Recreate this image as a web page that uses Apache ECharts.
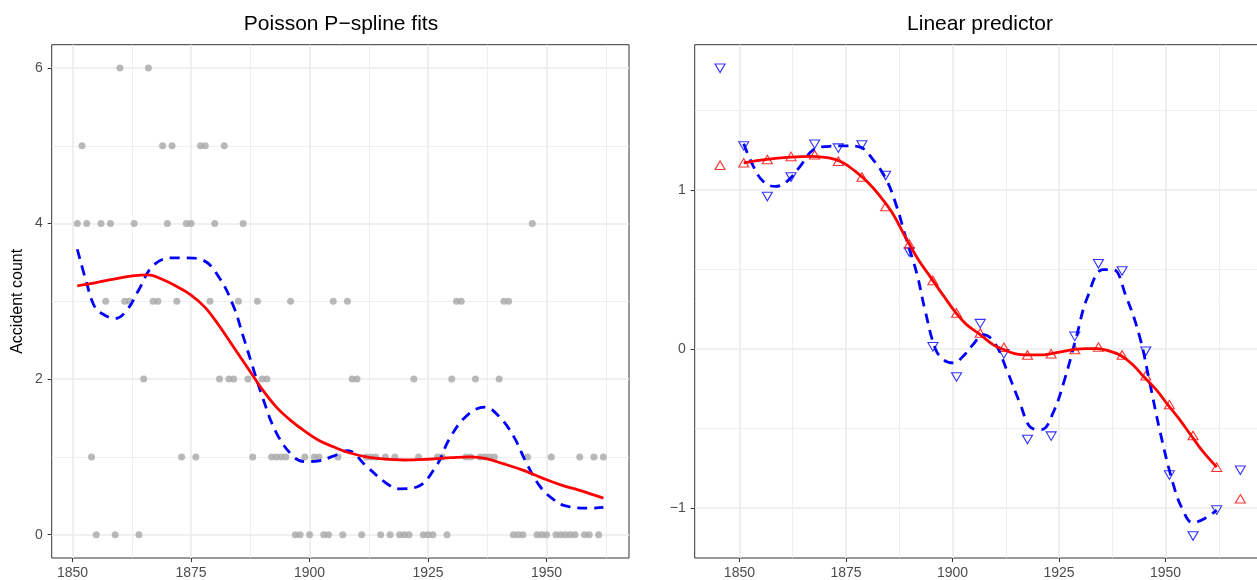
<!DOCTYPE html>
<html>
<head>
<meta charset="utf-8">
<script src="https://cdn.jsdelivr.net/npm/echarts@6/dist/echarts.min.js"></script>
<style>
  html, body { margin: 0; padding: 0; background: #fff; overflow: hidden; width: 1257px; height: 580px; }
  #chart { width: 1280px; height: 580px; }
</style>
</head>
<body>
<div id="chart"></div>
<script>
// yearly accident counts
const years = [
  1851, 1852, 1853, 1854, 1855, 1856, 1857, 1858, 1859, 1860,
  1861, 1862, 1863, 1864, 1865, 1866, 1867, 1868, 1869, 1870,
  1871, 1872, 1873, 1874, 1875, 1876, 1877, 1878, 1879, 1880,
  1881, 1882, 1883, 1884, 1885, 1886, 1887, 1888, 1889, 1890,
  1891, 1892, 1893, 1894, 1895, 1896, 1897, 1898, 1899, 1900,
  1901, 1902, 1903, 1904, 1905, 1906, 1907, 1908, 1909, 1910,
  1911, 1912, 1913, 1914, 1915, 1916, 1917, 1918, 1919, 1920,
  1921, 1922, 1923, 1924, 1925, 1926, 1927, 1928, 1929, 1930,
  1931, 1932, 1933, 1934, 1935, 1936, 1937, 1938, 1939, 1940,
  1941, 1942, 1943, 1944, 1945, 1946, 1947, 1948, 1949, 1950,
  1951, 1952, 1953, 1954, 1955, 1956, 1957, 1958, 1959, 1960,
  1961, 1962
]
const counts = [
  4, 5, 4, 1, 0, 4, 3, 4, 0, 6,
  3, 3, 4, 0, 2, 6, 3, 3, 5, 4,
  5, 3, 1, 4, 4, 1, 5, 5, 3, 4,
  2, 5, 2, 2, 3, 4, 2, 1, 3, 2,
  2, 1, 1, 1, 1, 3, 0, 0, 1, 0,
  1, 1, 0, 0, 3, 1, 0, 3, 2, 2,
  0, 1, 1, 1, 0, 1, 0, 1, 0, 0,
  0, 2, 1, 0, 0, 0, 1, 1, 0, 2,
  3, 3, 1, 1, 2, 1, 1, 1, 1, 2,
  3, 3, 0, 0, 0, 1, 4, 0, 0, 0,
  1, 0, 0, 0, 0, 0, 1, 0, 0, 1,
  0, 1
]

// fitted means (left panel)
const smoothMuYears = [1851, 1855, 1859, 1863, 1866, 1869, 1872, 1875, 1878, 1881, 1884, 1887, 1890, 1893, 1896, 1899, 1902, 1905, 1908, 1912, 1916, 1920, 1925, 1930, 1934, 1937, 1941, 1945, 1949, 1953, 1957, 1962]
const smoothMu = [3.20, 3.24, 3.29, 3.33, 3.34, 3.28, 3.19, 3.08, 2.92, 2.68, 2.41, 2.14, 1.87, 1.64, 1.47, 1.33, 1.21, 1.13, 1.06, 1.00, 0.97, 0.96, 0.97, 0.99, 1.00, 0.98, 0.91, 0.83, 0.73, 0.64, 0.57, 0.47]
const roughMuYears = [1851, 1853, 1854.5, 1856, 1859, 1861.5, 1864, 1867, 1871, 1874, 1877.5, 1881, 1884, 1886, 1888, 1890, 1893, 1896.5, 1899, 1902, 1905, 1908, 1912, 1916, 1919, 1922.5, 1926.7, 1929.5, 1933, 1937, 1940, 1943, 1945.7, 1948.5, 1951.3, 1954, 1959, 1962]
const roughMu = [3.67, 3.23, 2.95, 2.85, 2.78, 2.89, 3.15, 3.46, 3.56, 3.56, 3.53, 3.30, 2.93, 2.55, 2.16, 1.78, 1.31, 1.01, 0.94, 0.95, 1.01, 1.08, 0.88, 0.67, 0.59, 0.61, 0.88, 1.23, 1.52, 1.64, 1.52, 1.27, 0.93, 0.63, 0.46, 0.37, 0.34, 0.35]

// linear predictor (right panel)
const smoothEtaYears = [1851, 1856, 1862, 1867, 1871, 1874, 1877, 1880, 1883, 1886, 1889, 1892, 1895, 1898, 1901, 1903.3, 1906.2, 1909.5, 1912, 1914.6, 1917.3, 1920.4, 1923, 1926, 1928.4, 1931.4, 1934, 1937, 1939.4, 1942.3, 1944.8, 1947.8, 1950.5, 1953.3, 1956, 1958.7, 1962]
const smoothEta = [1.17, 1.19, 1.205, 1.21, 1.20, 1.175, 1.12, 1.05, 0.96, 0.85, 0.70, 0.56, 0.445, 0.33, 0.22, 0.153, 0.096, 0.027, -0.004, -0.03, -0.038, -0.038, -0.031, -0.015, -0.004, 0.002, 0.002, -0.015, -0.04, -0.099, -0.172, -0.256, -0.35, -0.444, -0.544, -0.643, -0.743]
const roughEtaYears = [1851, 1853.3, 1855.6, 1858.4, 1861.1, 1864.2, 1867.3, 1870.5, 1875.2, 1878.3, 1881.4, 1884.5, 1886.9, 1889.2, 1891.6, 1893.5, 1896, 1898, 1900.2, 1902.5, 1904.8, 1907.2, 1909.9, 1912.7, 1915.8, 1918.5, 1920.9, 1923.6, 1926.3, 1929.1, 1931.6, 1935.3, 1937.7, 1940.6, 1943.9, 1946.3, 1948.6, 1951.7, 1954, 1956.4, 1959.5, 1962]
const roughEta = [1.29, 1.146, 1.052, 1.021, 1.052, 1.146, 1.251, 1.272, 1.276, 1.268, 1.188, 1.063, 0.895, 0.686, 0.477, 0.25, 0.0, -0.07, -0.088, -0.046, 0.027, 0.09, 0.038, -0.13, -0.339, -0.496, -0.507, -0.402, -0.193, 0.079, 0.32, 0.498, 0.498, 0.34, 0.079, -0.213, -0.507, -0.841, -1.009, -1.092, -1.061, -1.013]

// B-spline coefficients
const coefYears = [1845.45, 1851.00, 1856.55, 1862.10, 1867.65, 1873.20, 1878.75, 1884.30, 1889.85, 1895.40, 1900.95, 1906.50, 1912.05, 1917.60, 1923.15, 1928.70, 1934.25, 1939.80, 1945.35, 1950.90, 1956.45, 1962.00, 1967.55]
const smoothCoef = [1.155, 1.17, 1.19, 1.21, 1.22, 1.18, 1.08, 0.895, 0.66, 0.43, 0.226, 0.10, 0.01, -0.038, -0.03, -0.004, 0.012, -0.038, -0.168, -0.35, -0.544, -0.743, -0.942]
const roughCoef = [1.764, 1.276, 0.958, 1.08, 1.287, 1.262, 1.282, 1.09, 0.609, 0.013, -0.176, 0.159, -0.031, -0.569, -0.548, 0.079, 0.535, 0.49, -0.015, -0.793, -1.176, -1.013, -0.762]

// ticks
const xMajor = [1850, 1875, 1900, 1925, 1950]
const xMinor = [1862.5, 1887.5, 1912.5, 1937.5, 1962.5]
const countMajor = [0, 2, 4, 6]
const countMinor = [1, 3, 5]
const etaMajor = [-1, 0, 1]
const etaMinor = [-0.5, 0.5, 1.5]

const FONT = '"Liberation Sans", Arial, sans-serif'
const zip = (xs, ys) => xs.map((x, i) => [x, ys[i]])
const minus = v => String(v).replace('-', '\u2212')

function majorAxis(grid, min, max, ticks, isY) {
    return {
        type: 'value', gridIndex: grid, min: min, max: max,
        axisLine: { show: false, onZero: false },
        axisTick: { show: true, length: 4, customValues: ticks, lineStyle: { color: '#333333', width: 1 } },
        axisLabel: {
            customValues: ticks, color: '#4D4D4D', fontSize: 14, fontFamily: FONT,
            margin: isY ? 9 : 8, formatter: minus
        },
        splitLine: { show: true, lineStyle: { color: '#EBEBEB', width: 1.6 } }
    }
}
function minorAxis(grid, min, max, ticks) {
    return {
        type: 'value', gridIndex: grid, min: min, max: max,
        axisLine: { show: false, onZero: false },
        axisTick: { show: false, customValues: ticks },
        axisLabel: { show: false, customValues: ticks },
        splitLine: { show: true, lineStyle: { color: '#EBEBEB', width: 0.8 } }
    }
}

const myChart = echarts.init(document.getElementById('chart'))

myChart.setOption({
    animation: false,
    backgroundColor: '#ffffff',
    textStyle: { fontFamily: FONT },
    title: [
        { text: 'Poisson P\u2212spline fits', left: 336, top: 9, textAlign: 'center',
          textStyle: { fontSize: 21, fontWeight: 'normal', color: '#000', fontFamily: FONT } },
        { text: 'Linear predictor', left: 975, top: 9, textAlign: 'center',
          textStyle: { fontSize: 21, fontWeight: 'normal', color: '#000', fontFamily: FONT } }
    ],
    grid: [
        { left: 51.7, top: 44.7, width: 577.3, height: 513.6, show: true,
          borderColor: '#333333', borderWidth: 1, backgroundColor: 'transparent' },
        { left: 694.7, top: 44.7, width: 571, height: 514, show: true,
          borderColor: '#333333', borderWidth: 1, backgroundColor: 'transparent' }
    ],
    xAxis: [
        majorAxis(0, 1845.6, 1967.4, xMajor, false),
        minorAxis(0, 1845.6, 1967.4, xMinor),
        majorAxis(1, 1839.5, 1973.5, xMajor, false),
        minorAxis(1, 1839.5, 1973.5, xMinor)
    ],
    yAxis: [
        Object.assign(majorAxis(0, -0.3, 6.3, countMajor, true), {
            name: 'Accident count', nameLocation: 'middle', nameGap: 26, nameRotate: 90,
            nameTextStyle: { fontSize: 16, color: '#000', fontFamily: FONT }
        }),
        minorAxis(0, -0.3, 6.3, countMinor),
        majorAxis(1, -1.314, 1.912, etaMajor, true),
        minorAxis(1, -1.314, 1.912, etaMinor)
    ],
    series: [
        {
            name: 'counts', type: 'scatter', xAxisIndex: 0, yAxisIndex: 0,
            data: zip(years, counts), symbol: 'circle', symbolSize: 7,
            itemStyle: { color: '#A8A8A8' }, silent: true
        },
        {
            name: 'rough fit', type: 'line', xAxisIndex: 0, yAxisIndex: 0,
            data: zip(roughMuYears, roughMu), smooth: 0.4, showSymbol: false,
            lineStyle: { color: '#0000FF', width: 2.8, type: [10, 7] }
        },
        {
            name: 'smooth fit', type: 'line', xAxisIndex: 0, yAxisIndex: 0,
            data: zip(smoothMuYears, smoothMu), smooth: 0.4, showSymbol: false,
            lineStyle: { color: '#FF0000', width: 2.8 }
        },
        {
            name: 'rough eta', type: 'line', xAxisIndex: 2, yAxisIndex: 2,
            data: zip(roughEtaYears, roughEta), smooth: 0.4, showSymbol: false,
            lineStyle: { color: '#0000FF', width: 2.8, type: [10, 7] }
        },
        {
            name: 'smooth eta', type: 'line', xAxisIndex: 2, yAxisIndex: 2,
            data: zip(smoothEtaYears, smoothEta), smooth: 0.4, showSymbol: false,
            lineStyle: { color: '#FF0000', width: 2.8 }
        },
        {
            name: 'rough coef', type: 'scatter', xAxisIndex: 2, yAxisIndex: 2,
            data: zip(coefYears, roughCoef), symbol: 'triangle', symbolRotate: 180,
            symbolSize: [10, 8.5],
            itemStyle: { color: 'rgba(0,0,0,0)', borderColor: '#0000FF', borderWidth: 1.1 }
        },
        {
            name: 'smooth coef', type: 'scatter', xAxisIndex: 2, yAxisIndex: 2,
            data: zip(coefYears, smoothCoef), symbol: 'triangle',
            symbolSize: [10, 8.5],
            itemStyle: { color: 'rgba(0,0,0,0)', borderColor: '#FF0000', borderWidth: 1.1 }
        }
    ]
})
</script>
</body>
</html>
